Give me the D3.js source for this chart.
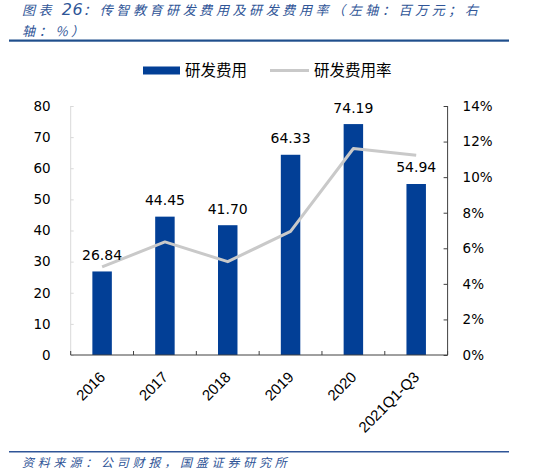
<!DOCTYPE html>
<html><head><meta charset="utf-8">
<script src="https://cdn.jsdelivr.net/npm/d3@7"></script>
<style>
body{margin:0;background:#fff;}
svg{display:block;}
</style></head>
<body>
<svg id="c" width="536" height="471"></svg>
<script>
const categories = ["2016","2017","2018","2019","2020","2021Q1-Q3"];
const rdExpense = [26.84, 44.45, 41.70, 64.33, 74.19, 54.94];
const rdRate = [4.95, 6.36, 5.25, 6.95, 11.61, 11.23];
const leftTicks = [0,10,20,30,40,50,60,70,80];
const rightTicks = [0,2,4,6,8,10,12,14];
const titlePrefix = "图表 ";
const titleNumber = "26";
const titleRest1 = "：传智教育研发费用及研发费用率（左轴：百万元；右";
const titleLine2 = "轴：%）";
const sourceText = "资料来源：公司财报，国盛证券研究所";
const legendNames = ["研发费用","研发费用率"];

const svg = d3.select("#c");
const M = {l:70.7, r:447.6, t:106, b:355};
const x = d3.scaleBand().domain(categories).range([M.l, M.r]).paddingInner(0).paddingOuter(0);
const yL = d3.scaleLinear().domain([0,80]).range([M.b, M.t]);
const yR = d3.scaleLinear().domain([0,14]).range([M.b, M.t]);
const barW = x.bandwidth()*0.31;
const numFont = "DejaVu Sans, Verdana, sans-serif";
const cjk = "'Noto Sans CJK SC', sans-serif";
const blue = "#023F96";

// Title
const tc = "#2F5597";
const t1 = svg.append("text").attr("x",22).attr("y",15).attr("fill",tc)
  .attr("font-family",cjk).attr("font-size",13).attr("font-style","italic")
  .attr("letter-spacing",3.6);
t1.append("tspan").text(titlePrefix);
t1.append("tspan").attr("font-family",numFont).attr("font-size",16).attr("letter-spacing",0.5).text(titleNumber);
t1.append("tspan").text(titleRest1);
svg.append("text").attr("x",22).attr("y",36).attr("fill",tc)
  .attr("font-family",cjk).attr("font-size",13).attr("font-style","italic")
  .attr("letter-spacing",3.7).text(titleLine2);
svg.append("rect").attr("x",9).attr("y",39.5).attr("width",500).attr("height",2.2).attr("fill","#1F4E8C");

// Legend
svg.append("rect").attr("x",143).attr("y",66.5).attr("width",37).attr("height",8).attr("fill",blue);
svg.append("text").attr("x",185).attr("y",75.5).attr("font-family",cjk).attr("font-size",15.5).attr("fill","#000").text(legendNames[0]);
svg.append("line").attr("x1",270).attr("x2",309).attr("y1",70.5).attr("y2",70.5).attr("stroke","#C9C9C9").attr("stroke-width",3);
svg.append("text").attr("x",314).attr("y",75.5).attr("font-family",cjk).attr("font-size",15.5).attr("fill","#000").text(legendNames[1]);

// Bars
svg.append("g").selectAll("rect").data(categories).join("rect")
  .attr("x",(d)=>x(d)+x.bandwidth()/2-barW/2)
  .attr("width",barW)
  .attr("y",(d,i)=>yL(rdExpense[i]))
  .attr("height",(d,i)=>yL(0)-yL(rdExpense[i]))
  .attr("fill",blue);

// Left axis
const gL = svg.append("g").attr("transform",`translate(${M.l},0)`)
  .call(d3.axisLeft(yL).tickValues(leftTicks).tickSize(-3).tickPadding(20).tickFormat(d3.format("d")));
gL.select(".domain").attr("stroke","#D9D9D9").attr("d",`M-0,${M.t}H0V${M.b}`);
gL.selectAll(".tick line").attr("stroke","#D9D9D9");
gL.selectAll("text").attr("font-family",numFont).attr("font-size",13.5).attr("fill","#000");

// Right axis
const gR = svg.append("g").attr("transform",`translate(${M.r},0)`)
  .call(d3.axisRight(yR).tickValues(rightTicks).tickSize(-4).tickPadding(15).tickFormat(d=>d+"%"));
gR.select(".domain").attr("stroke","#404040").attr("d",`M0,${M.t}V${M.b}`);
gR.selectAll(".tick line").attr("stroke","#404040");
gR.selectAll("text").attr("font-family",numFont).attr("font-size",13.5).attr("fill","#000");

// X axis
const gX = svg.append("g").attr("transform",`translate(0,${M.b})`);
gX.append("line").attr("x1",M.l).attr("x2",M.r).attr("stroke","#404040").attr("stroke-width",1);
const bounds = categories.map(d=>x(d)).concat([M.r]);
gX.selectAll(".bt").data(bounds).join("line").attr("class","bt")
  .attr("x1",d=>d).attr("x2",d=>d).attr("y1",0).attr("y2",-4).attr("stroke","#404040");
gX.selectAll(".xl").data(categories).join("text").attr("class","xl")
  .attr("transform",d=>`translate(${x(d)+x.bandwidth()/2+4},${23}) rotate(-45)`)
  .attr("text-anchor","end").attr("font-family","'Liberation Sans', Arial, sans-serif")
  .attr("font-size",15).attr("fill","#000").text(d=>d);

// Line
const line = d3.line().x((d,i)=>x(categories[i])+x.bandwidth()/2).y(d=>yR(d));
svg.append("path").datum(rdRate).attr("d",line).attr("fill","none")
  .attr("stroke","#C9C9C9").attr("stroke-width",3).attr("stroke-linejoin","round");

// Bar labels
svg.append("g").selectAll("text").data(categories).join("text")
  .attr("x",d=>x(d)+x.bandwidth()/2)
  .attr("y",(d,i)=>yL(rdExpense[i])-11.5)
  .attr("text-anchor","middle").attr("font-family",numFont).attr("font-size",14).attr("fill","#000")
  .text((d,i)=>rdExpense[i].toFixed(2));

// Source
svg.append("rect").attr("x",9).attr("y",451).attr("width",500).attr("height",1.5).attr("fill","#2F5597");
svg.append("text").attr("x",22).attr("y",467).attr("fill",tc)
  .attr("font-family",cjk).attr("font-size",12).attr("font-style","italic")
  .attr("letter-spacing",3.8).text(sourceText);
</script>
</body></html>
